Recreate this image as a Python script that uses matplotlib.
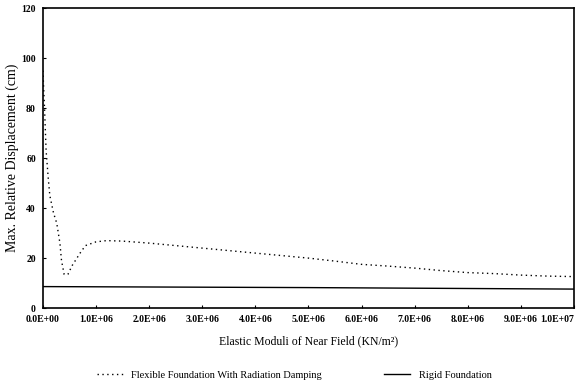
import numpy as np
import matplotlib
matplotlib.use("Agg")
import matplotlib.pyplot as plt

# Elastic moduli of near field (KN/m^2)
flex_e = [0.0, 0.03e6, 0.06e6, 0.10e6, 0.13e6, 0.20e6, 0.26e6, 0.32e6, 0.35e6, 0.40e6,
          0.47e6, 0.55e6, 0.70e6, 0.80e6, 1.0e6, 1.2e6, 1.5e6, 2.0e6, 2.5e6, 3.0e6,
          3.5e6, 4.0e6, 4.5e6, 5.0e6, 5.5e6, 6.0e6, 6.5e6, 7.0e6, 7.5e6, 8.0e6,
          8.5e6, 9.0e6, 9.5e6, 10.0e6]
flex_disp = [95, 80, 63, 52, 45, 38, 34, 26, 19, 13.5,
             13.5, 17, 22, 25, 26.5, 27, 26.8, 26, 25, 24,
             23, 22, 21, 20, 18.8, 17.5, 16.8, 16, 15, 14.2,
             13.8, 13.2, 12.8, 12.6]

rigid_e = [0.0, 2.5e6, 5.0e6, 7.5e6, 10.0e6]
rigid_disp = [8.6, 8.4, 8.2, 7.9, 7.6]

xticks = [i * 1e6 for i in range(11)]
xtick_labels = ["0.0E+00", "1.0E+06", "2.0E+06", "3.0E+06", "4.0E+06", "5.0E+06",
                "6.0E+06", "7.0E+06", "8.0E+06", "9.0E+06", "1.0E+07"]
yticks = [0, 20, 40, 60, 80, 100, 120]

plt.rcParams['font.family'] = ['Liberation Serif', 'DejaVu Serif']

fig = plt.figure(figsize=(5.88, 3.89), dpi=100)
ax = fig.add_axes([0.073, 0.208, 0.903, 0.771])

ax.plot(flex_e, flex_disp, color="black", linestyle=(0, (1, 2.5)), linewidth=1.0,
        label="Flexible Foundation With Radiation Damping")
ax.plot(rigid_e, rigid_disp, color="black", linewidth=1.0, label="Rigid Foundation")

ax.set_xlim(0, 1e7)
ax.set_ylim(0, 120)
ax.set_xticks(xticks)
ax.set_xticklabels(xtick_labels)
ax.set_yticks(yticks)
ax.tick_params(direction="in", length=2, labelsize=7, width=0.8, pad=5)
for lbl in ax.get_xticklabels() + ax.get_yticklabels():
    lbl.set_fontweight("bold")
ax.get_xticklabels()[-1].set_horizontalalignment("right")
for s in ax.spines.values():
    s.set_linewidth(1.2)

ax.set_xlabel("Elastic Moduli of Near Field (KN/m²)", fontsize=8.5, labelpad=8)
ax.set_ylabel("Max. Relative Displacement (cm)", fontsize=10)
ax.yaxis.set_label_coords(-0.045, 0.5)

fig.legend(loc="lower center", bbox_to_anchor=(0.5, 0.0), ncol=2, frameon=False,
           fontsize=7.5, handlelength=2.5, columnspacing=6)

plt.savefig("out.png", dpi=100)
